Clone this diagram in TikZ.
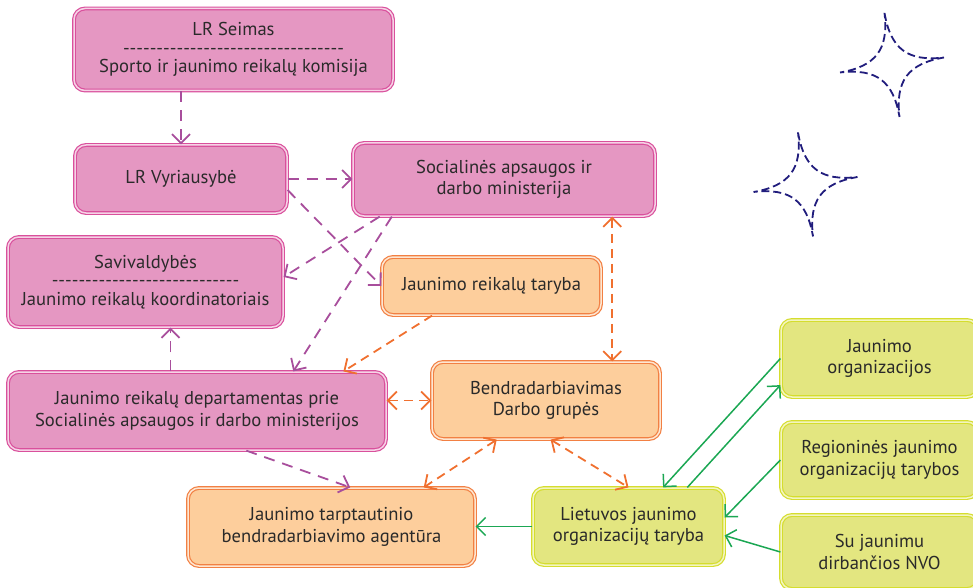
\documentclass[tikz,border=0pt]{standalone}
\usepackage{fontspec}
\setmainfont{PT Sans}
\usetikzlibrary{arrows.meta,calc}
\definecolor{pinkfill}{HTML}{E597C2}
\definecolor{pinkline}{HTML}{D9509C}
\definecolor{pinkgap}{HTML}{F6D3E6}
\definecolor{orfill}{HTML}{FDCE9C}
\definecolor{orline}{HTML}{F28043}
\definecolor{orgap}{HTML}{FEE7D2}
\definecolor{yefill}{HTML}{E3E680}
\definecolor{yeline}{HTML}{D5DD2E}
\definecolor{yegap}{HTML}{F3F5C0}
\definecolor{purp}{HTML}{A84E9C}
\definecolor{oran}{HTML}{F0702F}
\definecolor{gree}{HTML}{1BA753}
\definecolor{starcol}{HTML}{211D7D}
\definecolor{txt}{HTML}{2A2A2A}
\newcommand\dashrow[1]{\foreach \i in {1,...,#1}{-\kern0pt}}
\newcommand\sparkle[3]{% center x, center y, rotation
  \begin{scope}[shift={(#1,#2)}, rotate=#3]
    \draw[starline] (0,-52.5) .. controls (1,-16) and (16,-1) .. (52.5,0)
      .. controls (16,1) and (1,16) .. (0,52.5)
      .. controls (-1,16) and (-16,1) .. (-52.5,0)
      .. controls (-16,-1) and (-1,-16) .. cycle;
  \end{scope}}
\tikzset{
  box/.style={rounded corners=11pt, line width=1.2pt, double distance=1.5pt,
    align=center, text=txt, font=\fontsize{18.6}{21.5}\selectfont, inner sep=0pt},
  tribox/.style={font=\fontsize{18.6}{18.5}\selectfont},
  pinkbox/.style={box, draw=pinkline, double=pinkgap, fill=pinkfill},
  orbox/.style={box, draw=orline, double=orgap, fill=orfill},
  yebox/.style={box, draw=yeline, double=yegap, fill=yefill},
  barb/.tip={Straight Barb[length=9pt,width=18pt]},
  parr/.style={draw=purp, line width=1.8pt, dash pattern=on 11pt off 8pt, -barb},
  oarr/.style={draw=oran, line width=1.8pt, dash pattern=on 9pt off 6pt, barb-barb},
  oarrone/.style={draw=oran, line width=1.8pt, dash pattern=on 9pt off 6pt, -barb},
  garr/.style={draw=gree, line width=1.5pt, -barb},
  starline/.style={draw=starcol, line width=1.8pt, dash pattern=on 8pt off 4pt}
}
\begin{document}
\begin{tikzpicture}[x=1pt,y=-1pt]
\path[use as bounding box] (0,0) rectangle (973,588);
\clip (0,0) rectangle (973,588);

% nodes
\node[pinkbox, tribox, minimum width=319pt, minimum height=82pt] (seimas) at (233.5,49.5)
  {LR Seimas\\\dashrow{33}\\Sporto ir jaunimo reikalų komisija};
\node[pinkbox, minimum width=212pt, minimum height=68pt] (vyr) at (181,179) {LR Vyriausybė};
\node[pinkbox, minimum width=302pt, minimum height=73pt] (soc) at (504,179.5)
  {Socialinės apsaugos ir\\darbo ministerija};
\node[pinkbox, tribox, minimum width=275pt, minimum height=90pt] (sav) at (145.5,282)
  {Savivaldybės\\\dashrow{28}\\Jaunimo reikalų koordinatoriais};
\node[orbox, minimum width=219pt, minimum height=58pt] (jrt) at (491.5,286) {Jaunimo reikalų taryba};
\node[pinkbox, minimum width=378pt, minimum height=78pt] (dep) at (197,411)
  {Jaunimo reikalų departamentas prie\\Socialinės apsaugos ir darbo ministerijos};
\node[orbox, minimum width=228pt, minimum height=77pt] (bendr) at (546,400.5)
  {Bendradarbiavimas\\Darbo grupės};
\node[orbox, minimum width=287pt, minimum height=78pt] (tarpt) at (331.5,527)
  {Jaunimo tarptautinio\\bendradarbiavimo agentūra};
\node[yebox, minimum width=191pt, minimum height=77pt] (liet) at (628.5,526.5)
  {Lietuvos jaunimo\\organizacijų taryba};
\node[yebox, minimum width=197pt, minimum height=77pt] (jorg) at (879.5,358.5)
  {Jaunimo\\organizacijos};
\node[yebox, minimum width=197pt, minimum height=76pt] (reg) at (879.5,460)
  {Regioninės jaunimo\\organizacijų tarybos};
\node[yebox, minimum width=197pt, minimum height=74pt] (nvo) at (879.5,552)
  {Su jaunimu\\dirbančios NVO};

% helper coordinates on borders
\coordinate (depN1) at ($(dep.north west)!0.43!(dep.north east)$);
\coordinate (depN2) at ($(dep.north west)!0.754!(dep.north east)$);
\coordinate (depN3) at ($(dep.north west)!0.886!(dep.north east)$);
\coordinate (depS1) at ($(dep.south west)!0.63!(dep.south east)$);
\coordinate (socS1) at ($(soc.south west)!0.09!(soc.south east)$);
\coordinate (socS2) at ($(soc.south west)!0.13!(soc.south east)$);
\coordinate (socS3) at ($(soc.south west)!0.857!(soc.south east)$);
\coordinate (vyrE1) at ($(vyr.east)+(0,11)$);
\coordinate (jrtS1) at ($(jrt.south west)!0.23!(jrt.south east)$);
\coordinate (bendrS1) at ($(bendr.south west)!0.285!(bendr.south east)$);
\coordinate (bendrS2) at ($(bendr.south west)!0.52!(bendr.south east)$);
\coordinate (tarptN1) at ($(tarpt.north west)!0.565!(tarpt.north east)$);
\coordinate (tarptN2) at ($(tarpt.north west)!0.82!(tarpt.north east)$);
\coordinate (lietN1) at ($(liet.north west)!0.68!(liet.north east)$);
\coordinate (lietN2) at ($(liet.north west)!0.806!(liet.north east)$);
\coordinate (lietE1) at ($(liet.east)+(0,-9)$);
\coordinate (lietE2) at ($(liet.east)+(0,9)$);
\coordinate (jorgW1) at ($(jorg.south west)!0.16!(jorg.north west)$);
\coordinate (savE1) at ($(sav.east)+(0,-5)$);

% purple arrows
\draw[parr] (vyr.north |- seimas.south) -- (vyr.north);
\draw[parr] (vyr.east) -- (vyr.east -| soc.west);
\draw[parr] (vyrE1) -- (jrt.west);
\draw[parr] (socS1) -- (savE1);
\draw[parr] (socS2) -- (depN2);
\draw[parr] (depN1) -- (depN1 |- sav.south);
\draw[parr] (depS1) -- (tarptN1);

% orange arrows
\draw[oarrone] (jrtS1) -- (depN3);
\draw[oarr] (bendr.west -| dep.east) -- (bendr.west);
\draw[oarr] (socS3) -- (socS3 |- bendr.north);
\draw[oarr] (bendrS1) -- (tarptN2);
\draw[oarr] (bendrS2) -- (liet.north);

% green arrows
\draw[garr] (liet.west) -- (liet.west -| tarpt.east);
\draw[garr] (jorg.west) -- (lietN1);
\draw[garr] (lietN2) -- (jorgW1);
\draw[garr] (reg.west) -- (lietE1);
\draw[garr] (nvo.west) -- (lietE2);

% stars
\sparkle{892}{65}{8.2}
\sparkle{805.5}{184.5}{8.2}
\end{tikzpicture}
\end{document}
